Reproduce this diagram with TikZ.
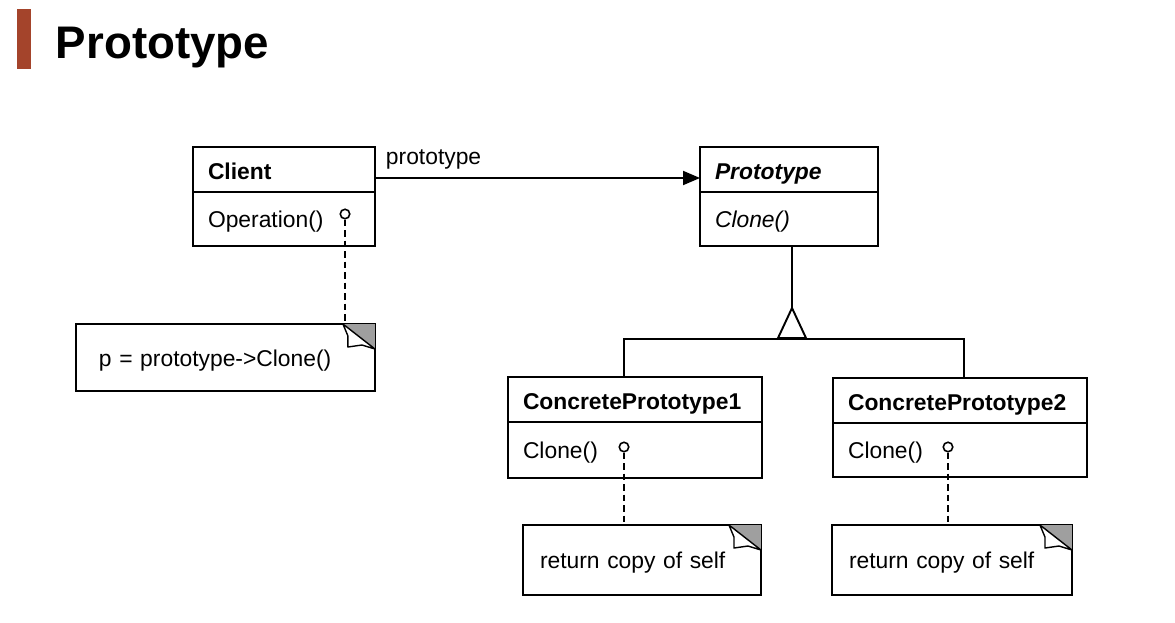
\documentclass[tikz,border=0pt]{standalone}
\usepackage{fontspec}
\setmainfont{Liberation Sans}
\usetikzlibrary{arrows.meta}
\definecolor{titlered}{HTML}{A4442B}

\begin{document}
\begin{tikzpicture}
  [x=0.02cm, y=-0.02cm, line width=1.1pt,
   every node/.style={font=\fontsize{13}{15}\selectfont, inner ysep=0pt},
   cls/.style={draw, anchor=north west, outer sep=0pt, text width=#1, inner xsep=0.3cm, align=left,
               text height=11pt, text depth=0pt, minimum height=0.9cm},
   ops/.style={cls=#1, text height=9.5pt, minimum height=1.08cm},
   note/.style={draw, anchor=north west, outer sep=0pt, text width=#1, inner xsep=0.34cm, align=left,
                text height=10pt, text depth=0pt, minimum height=1.4cm},
   pin/.style={draw, circle, inner sep=0pt, minimum size=0.19cm, line width=0.9pt},
   link/.style={dash pattern=on 0.13cm off 0.08cm, line width=0.9pt}]
  \useasboundingbox (0,0) rectangle (1175,622);
  \fill[titlered] (17,9) rectangle (31,69);
  \node[anchor=base west, inner sep=0pt, font=\fontsize{26}{30}\selectfont\bfseries] (title) at (55,58) {Prototype};

  % classes
  \node[cls=3.04cm] (client) at (193,147) {\textbf{Client}};
  \node[ops=3.04cm] (clientops) at (client.south west) {Operation()};
  \node[cls=2.96cm] (proto) at (700,147) {\textbf{\textit{Prototype}}};
  \node[ops=2.96cm] (protoops) at (proto.south west) {\textit{Clone()}};
  \node[cls=4.48cm] (conc1) at (508,377) {\textbf{ConcretePrototype1}};
  \node[ops=4.48cm, minimum height=1.12cm] (conc1ops) at (conc1.south west) {Clone()};
  \node[cls=4.48cm] (conc2) at (833,378) {\textbf{ConcretePrototype2}};
  \node[ops=4.48cm] (conc2ops) at (conc2.south west) {Clone()};

  % notes
  \node[note=5.06cm, inner xsep=0.46cm, minimum height=1.34cm] (note1) at (76,324) {p = prototype->Clone()};
  \node[note=4.08cm] (note2) at (523,525) {return copy of self};
  \node[note=4.12cm] (note3) at (832,525) {return copy of self};
  \foreach \n in {note1,note2,note3}{
    \fill[gray!75, shift={(\n.north east)}] (-32,0) -- (0,0) -- (0,25) -- cycle;
    \draw[line width=0.8pt, fill=white, line join=round, shift={(\n.north east)}]
      (-32,0) -- (-27,12) -- (-27,23) -- (-13,21) -- (0,25) -- cycle;
  }

  % note links
  \node[pin] (pin1) at (345,214) {};
  \node[pin] (pin2) at (624,447) {};
  \node[pin] (pin3) at (948,447) {};
  \draw[link] (pin1) -- (pin1 |- note1.north);
  \draw[link] (pin2) -- (pin2 |- note2.north);
  \draw[link] (pin3) -- (pin3 |- note3.north);

  % association
  \coordinate (arr) at (0,178);
  \draw[-{Triangle[length=0.34cm, width=0.28cm]}] (client.east |- arr) -- (proto.west |- arr);
  \node[anchor=base west, inner sep=0pt] (role) at (385,164) {prototype};

  % inheritance
  \coordinate (apex) at (792,308);
  \coordinate (fork2) at (964,339);
  \draw (apex |- protoops.south) -- (apex);
  \draw (apex) -- ++(-14,30) -- ++(28,0) -- cycle;
  \draw (pin2 |- conc1.north) |- (fork2) -- (fork2 |- conc2.north);
\end{tikzpicture}
\end{document}
